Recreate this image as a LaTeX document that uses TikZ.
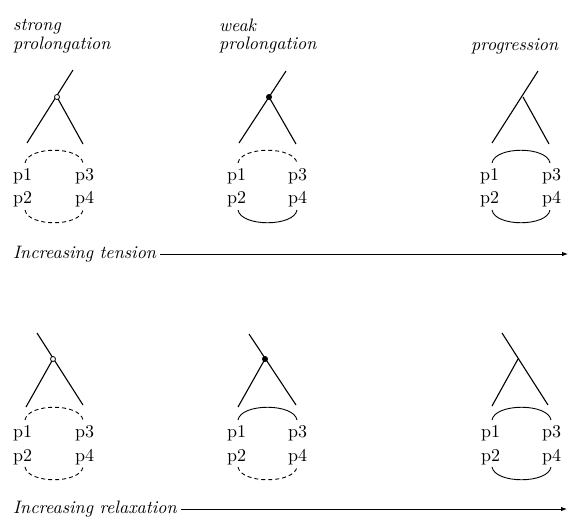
\documentclass[tikz,border=0pt]{standalone}
\usetikzlibrary{arrows.meta}
\newcommand{\hdtxt}[1]{\scalebox{1.8}{\fontsize{10}{12}\selectfont\itshape #1}}
\newcommand{\lbtxt}[1]{\scalebox{1.8}{\fontsize{10}{12}\selectfont #1}}
\begin{document}
\begin{tikzpicture}[x=1pt,y=-1pt,
  lbl/.style={inner sep=0pt,anchor=base west},
  hd/.style={inner sep=0pt,anchor=base west},
  branch/.style={line width=1.1pt},
  arcdash/.style={line width=0.9pt,dash pattern=on 4pt off 3pt},
  arcsolid/.style={line width=0.9pt},
  hollow/.style={circle,draw,line width=0.8pt,fill=white,inner sep=0pt,minimum size=5pt},
  filled/.style={circle,fill=black,inner sep=0pt,minimum size=6pt},
  axis/.style={line width=0.9pt,-{Latex[length=6pt,width=4.5pt]}}]
\useasboundingbox (0,0) rectangle (569,517);

% ---------- headings ----------
\node[hd] (h1a) at (13,30) {\hdtxt{strong}};
\node[hd] (h1b) at (13,49) {\hdtxt{prolongation}};
\node[hd] (h2a) at (219,31) {\hdtxt{weak}};
\node[hd] (h2b) at (219,49) {\hdtxt{prolongation}};
\node[hd] (h3) at (471,50) {\hdtxt{progression}};

% ---------- top row: trees ----------
% panel 1
\coordinate (t1top) at (73,70);
\coordinate (t1l) at (27,143);
\coordinate (t1r) at (83,144);
\coordinate (t1j) at (57,97);
\draw[branch] (t1top) -- (t1l);
\draw[branch] (t1j) -- (t1r);
\node[hollow] (j1) at (t1j) {};
% panel 2
\coordinate (t2top) at (286,71);
\coordinate (t2l) at (239,143);
\coordinate (t2r) at (296,144);
\coordinate (t2j) at (269,97);
\draw[branch] (t2top) -- (t2l);
\draw[branch] (t2j) -- (t2r);
\node[filled] (j2) at (t2j) {};
% panel 3
\coordinate (t3top) at (538,71);
\coordinate (t3l) at (492,143);
\coordinate (t3r) at (549,144);
\coordinate (t3j) at (523,97);
\draw[branch] (t3top) -- (t3l);
\draw[branch] (t3j) -- (t3r);

% ---------- top row: labels ----------
\node[lbl] (a1p1) at (13,180) {\lbtxt{p1}};
\node[lbl] (a1p3) at (75,180) {\lbtxt{p3}};
\node[lbl] (a1p2) at (13,203) {\lbtxt{p2}};
\node[lbl] (a1p4) at (75,203) {\lbtxt{p4}};
\node[lbl] (a2p1) at (227,180) {\lbtxt{p1}};
\node[lbl] (a2p3) at (288,180) {\lbtxt{p3}};
\node[lbl] (a2p2) at (227,203) {\lbtxt{p2}};
\node[lbl] (a2p4) at (288,203) {\lbtxt{p4}};
\node[lbl] (a3p1) at (480,180) {\lbtxt{p1}};
\node[lbl] (a3p3) at (542,180) {\lbtxt{p3}};
\node[lbl] (a3p2) at (480,203) {\lbtxt{p2}};
\node[lbl] (a3p4) at (542,203) {\lbtxt{p4}};

% ---------- top row: arcs ----------
\coordinate (u1l) at (25,163);  \coordinate (u1r) at (83,163);
\coordinate (d1l) at (25,210);  \coordinate (d1r) at (83,210);
\coordinate (u2l) at (238,163); \coordinate (u2r) at (297,163);
\coordinate (d2l) at (238,210); \coordinate (d2r) at (297,210);
\coordinate (u3l) at (492,163); \coordinate (u3r) at (550,163);
\coordinate (d3l) at (492,210); \coordinate (d3r) at (550,210);
\draw[arcdash]  (u1l) .. controls +(3,-17) and +(-3,-17) .. (u1r);
\draw[arcdash]  (d1l) .. controls +(3,17) and +(-3,17) .. (d1r);
\draw[arcdash]  (u2l) .. controls +(3,-17) and +(-3,-17) .. (u2r);
\draw[arcsolid] (d2l) .. controls +(3,17) and +(-3,17) .. (d2r);
\draw[arcsolid] (u3l) .. controls +(3,-17) and +(-3,-17) .. (u3r);
\draw[arcsolid] (d3l) .. controls +(3,17) and +(-3,17) .. (d3r);

% ---------- tension axis ----------
\node[hd] (tension) at (13,258) {\hdtxt{Increasing tension}};
\coordinate (tend) at (568,254);
\draw[axis] ([xshift=4pt]tension.east |- tend) -- (tend);

% ---------- bottom row: trees ----------
% panel 4
\coordinate (t4top) at (37,333);
\coordinate (t4l) at (26,407);
\coordinate (t4r) at (83,405);
\coordinate (t4j) at (53,359);
\draw[branch] (t4top) -- (t4r);
\draw[branch] (t4j) -- (t4l);
\node[hollow] (j4) at (t4j) {};
% panel 5
\coordinate (t5top) at (249,334);
\coordinate (t5l) at (238,407);
\coordinate (t5r) at (296,405);
\coordinate (t5j) at (265,359);
\draw[branch] (t5top) -- (t5r);
\draw[branch] (t5j) -- (t5l);
\node[filled] (j5) at (t5j) {};
% panel 6
\coordinate (t6top) at (502,333);
\coordinate (t6l) at (492,406);
\coordinate (t6r) at (548,405);
\coordinate (t6j) at (518,359);
\draw[branch] (t6top) -- (t6r);
\draw[branch] (t6j) -- (t6l);

% ---------- bottom row: labels ----------
\node[lbl] (b1p1) at (13,437) {\lbtxt{p1}};
\node[lbl] (b1p3) at (75,437) {\lbtxt{p3}};
\node[lbl] (b1p2) at (13,461) {\lbtxt{p2}};
\node[lbl] (b1p4) at (75,461) {\lbtxt{p4}};
\node[lbl] (b2p1) at (227,437) {\lbtxt{p1}};
\node[lbl] (b2p3) at (288,437) {\lbtxt{p3}};
\node[lbl] (b2p2) at (227,461) {\lbtxt{p2}};
\node[lbl] (b2p4) at (288,461) {\lbtxt{p4}};
\node[lbl] (b3p1) at (481,437) {\lbtxt{p1}};
\node[lbl] (b3p3) at (542,437) {\lbtxt{p3}};
\node[lbl] (b3p2) at (481,461) {\lbtxt{p2}};
\node[lbl] (b3p4) at (542,461) {\lbtxt{p4}};

% ---------- bottom row: arcs ----------
\coordinate (u4l) at (25,420);  \coordinate (u4r) at (83,420);
\coordinate (d4l) at (25,467);  \coordinate (d4r) at (83,467);
\coordinate (u5l) at (238,420); \coordinate (u5r) at (297,420);
\coordinate (d5l) at (238,467); \coordinate (d5r) at (297,467);
\coordinate (u6l) at (492,420); \coordinate (u6r) at (551,420);
\coordinate (d6l) at (492,467); \coordinate (d6r) at (551,467);
\draw[arcdash]  (u4l) .. controls +(3,-17) and +(-3,-17) .. (u4r);
\draw[arcdash]  (d4l) .. controls +(3,17) and +(-3,17) .. (d4r);
\draw[arcsolid] (u5l) .. controls +(3,-17) and +(-3,-17) .. (u5r);
\draw[arcdash]  (d5l) .. controls +(3,17) and +(-3,17) .. (d5r);
\draw[arcsolid] (u6l) .. controls +(3,-17) and +(-3,-17) .. (u6r);
\draw[arcsolid] (d6l) .. controls +(3,17) and +(-3,17) .. (d6r);

% ---------- relaxation axis ----------
\node[hd] (relax) at (13,513) {\hdtxt{Increasing relaxation}};
\coordinate (rend) at (567,509);
\draw[axis] ([xshift=4pt]relax.east |- rend) -- (rend);
\end{tikzpicture}
\end{document}
